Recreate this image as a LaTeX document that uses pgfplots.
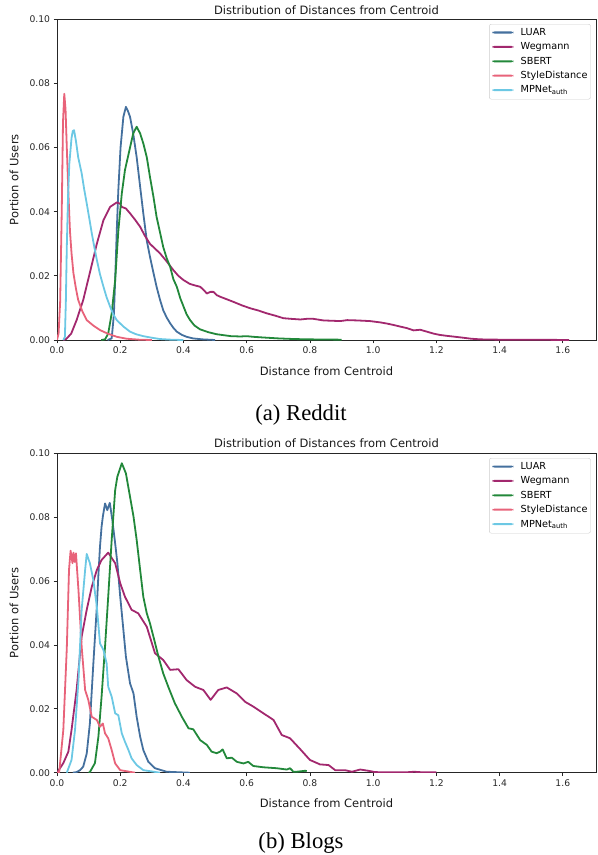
\documentclass[border=0pt]{standalone}
\usepackage{fontspec}
\setmainfont{DejaVu Sans}
\newfontfamily\capfont{Liberation Serif}
\usepackage{pgfplots}
\pgfplotsset{compat=1.18}
\definecolor{cLUAR}{HTML}{44709E}
\definecolor{cWeg}{HTML}{A2286E}
\definecolor{cSB}{HTML}{22883A}
\definecolor{cSD}{HTML}{E8637A}
\definecolor{cMP}{HTML}{6CC8E4}
\newcommand{\tfont}{\fontsize{11.5bp}{13bp}\selectfont}
\pgfplotsset{
 myax/.style={
  scale only axis, width=539bp,
  xmin=0, xmax=1.705, ymin=0, ymax=0.1,
  axis line style={black!85, line width=0.8bp},
  xtick={0,0.2,0.4,0.6,0.8,1.0,1.2,1.4,1.6},
  ytick={0,0.02,0.04,0.06,0.08,0.1},
  tick align=outside, tick pos=left, major tick length=3.4bp,
  every tick/.style={black!85, line width=0.8bp},
  xticklabel style={/pgf/number format/.cd, fixed, fixed zerofill, precision=1},
  yticklabel style={/pgf/number format/.cd, fixed, fixed zerofill, precision=2},
  /pgf/number format/assume math mode=true,
  tick label style={font=\fontsize{9.2bp}{11bp}\selectfont, text=black!85},
  legend style={at={(1,1)}, anchor=north east, xshift=-5.3bp, yshift=-4.7bp,
    draw=black!20, rounded corners=2bp, fill=white,
    font=\fontsize{9.7bp}{11bp}\selectfont, inner xsep=3bp, inner ysep=1.5bp,
    row sep=0bp,
    nodes={inner xsep=0bp, inner ysep=2.3bp, text height=7.4bp, text depth=2.4bp},
    /tikz/every odd column/.append style={column sep=7.4bp}},
  legend cell align=left,
  legend image code/.code={\fill[#1, draw=none] (0bp,-0.6bp) rectangle (21bp,1.4bp);},
  every axis plot/.append style={line width=1.8bp, line join=round, mark=none},
 }
}
\begin{document}
\begin{tikzpicture}
\path[use as bounding box] (0,0) rectangle (598bp,-855bp);
% ---------- (a) Reddit ----------
\begin{axis}[myax, height=320.7bp, at={(57bp,-340bp)}, anchor=south west]
\addplot[cLUAR] table {
0.16 0
0.173 0.0005
0.18 0.008
0.184 0.0187
0.189 0.034
0.194 0.0467
0.201 0.060
0.21 0.0696
0.218 0.0727
0.224 0.0715
0.231 0.0696
0.241 0.0644
0.252 0.057
0.263 0.0478
0.273 0.0395
0.284 0.031
0.294 0.026
0.305 0.021
0.315 0.0166
0.326 0.0125
0.336 0.0093
0.347 0.007
0.358 0.0052
0.368 0.0038
0.379 0.0026
0.395 0.0016
0.41 0.001
0.43 0.0005
0.46 0.0002
0.5 0.0
};
\addlegendentry{LUAR}
\addplot[cWeg] table {
0.02 0
0.029 0.0003
0.045 0.002
0.062 0.0062
0.083 0.0125
0.104 0.021
0.126 0.030
0.147 0.0374
0.168 0.0415
0.189 0.0429
0.2 0.0425
0.205 0.0415
0.218 0.041
0.231 0.0395
0.247 0.0375
0.263 0.0353
0.278 0.0325
0.294 0.030
0.31 0.0285
0.326 0.027
0.347 0.0245
0.368 0.0218
0.384 0.020
0.4 0.0187
0.42 0.0175
0.437 0.017
0.453 0.0166
0.465 0.0155
0.474 0.0145
0.485 0.0150
0.495 0.015
0.505 0.014
0.516 0.0135
0.537 0.0127
0.558 0.0119
0.585 0.0108
0.611 0.0099
0.637 0.0092
0.664 0.0083
0.69 0.0076
0.716 0.0068
0.74 0.0066
0.77 0.0064
0.79 0.0066
0.811 0.0066
0.83 0.0063
0.843 0.0061
0.87 0.006
0.896 0.0059
0.918 0.0062
0.95 0.0061
0.99 0.0059
1.022 0.0055
1.045 0.0051
1.064 0.0047
1.085 0.0042
1.107 0.0037
1.128 0.003
1.149 0.0032
1.17 0.0026
1.191 0.002
1.21 0.0016
1.233 0.0013
1.26 0.001
1.286 0.0007
1.31 0.0004
1.339 0.0002
1.4 0.0001
1.5 0.0001
1.62 0.0
};
\addlegendentry{Wegmann}
\addplot[cSB] table {
0.14 0
0.152 0.0002
0.162 0.002
0.173 0.0083
0.184 0.0187
0.194 0.034
0.205 0.0457
0.215 0.053
0.231 0.060
0.241 0.0644
0.252 0.0665
0.263 0.0644
0.273 0.0613
0.284 0.057
0.294 0.0509
0.305 0.0447
0.315 0.0384
0.326 0.0335
0.336 0.029
0.347 0.0255
0.358 0.0228
0.368 0.019
0.379 0.0166
0.39 0.013
0.40 0.0105
0.41 0.008
0.421 0.0062
0.435 0.0045
0.453 0.0033
0.48 0.0024
0.505 0.0018
0.55 0.0012
0.58 0.0011
0.60 0.0012
0.62 0.0010
0.65 0.0008
0.70 0.0005
0.75 0.0003
0.8 0.0002
0.9 0.0001
};
\addlegendentry{SBERT}
\addplot[cSD] table {
0.0 0
0.005 0.002
0.01 0.012
0.015 0.04
0.019 0.068
0.023 0.0768
0.027 0.072
0.031 0.060
0.036 0.046
0.041 0.034
0.046 0.027
0.052 0.0208
0.06 0.016
0.067 0.0125
0.08 0.009
0.094 0.0062
0.115 0.0045
0.136 0.0031
0.16 0.002
0.189 0.001
0.22 0.0004
0.26 0.0001
0.3 0
};
\addlegendentry{StyleDistance}
\addplot[cMP] table {
0.02 0
0.025 0.001
0.028 0.012
0.031 0.029
0.035 0.045
0.039 0.055
0.046 0.063
0.050 0.0652
0.054 0.0654
0.06 0.062
0.067 0.057
0.078 0.052
0.086 0.047
0.094 0.0426
0.102 0.038
0.11 0.0333
0.118 0.029
0.126 0.025
0.136 0.0205
0.147 0.0166
0.157 0.0133
0.168 0.0104
0.178 0.008
0.189 0.0062
0.21 0.0042
0.231 0.0026
0.25 0.0018
0.273 0.0012
0.3 0.0007
0.326 0.0003
0.36 0.0001
0.4 0
};
\addlegendentry{MPNet\textsubscript{auth}}
\end{axis}
% ---------- (b) Blogs ----------
\begin{axis}[myax, height=319.4bp, at={(57bp,-772.7bp)}, anchor=south west]
\addplot[cLUAR] table {
0.05 0
0.062 0.0002
0.073 0.0008
0.083 0.0019
0.094 0.006
0.104 0.0154
0.115 0.0342
0.126 0.052
0.131 0.062
0.136 0.0708
0.141 0.077
0.145 0.0802
0.152 0.0843
0.159 0.0822
0.167 0.0845
0.175 0.0791
0.184 0.0718
0.191 0.0656
0.2 0.0551
0.21 0.0447
0.218 0.0363
0.231 0.028
0.242 0.0248
0.252 0.0175
0.263 0.0113
0.273 0.0071
0.289 0.0034
0.31 0.0014
0.347 0.0003
0.42 0
};
\addlegendentry{LUAR}
\addplot[cWeg] table {
0.0 0
0.02 0.003
0.036 0.0066
0.046 0.0134
0.062 0.0259
0.078 0.0426
0.094 0.051
0.11 0.0582
0.126 0.0635
0.141 0.0666
0.162 0.0689
0.184 0.0656
0.2 0.0593
0.215 0.0551
0.236 0.051
0.257 0.0499
0.284 0.0457
0.31 0.0374
0.336 0.0353
0.358 0.0322
0.384 0.0324
0.41 0.029
0.437 0.0269
0.463 0.0259
0.486 0.0228
0.51 0.0259
0.537 0.0267
0.569 0.0248
0.595 0.0222
0.621 0.0207
0.653 0.0186
0.685 0.0165
0.711 0.0118
0.737 0.0108
0.769 0.0074
0.8 0.004
0.832 0.0026
0.859 0.0024
0.88 0.0008
0.911 0.0008
0.933 0.0003
0.959 0.001
0.985 0.0006
1.006 0.0002
1.04 0.0001
1.1 0.0001
1.13 0.0003
1.16 0.0001
1.2 0.0001
};
\addlegendentry{Wegmann}
\addplot[cSB] table {
0.1 0
0.104 0.0002
0.12 0.003
0.131 0.0113
0.141 0.0238
0.152 0.0395
0.162 0.0551
0.173 0.0729
0.184 0.0885
0.191 0.0927
0.205 0.0969
0.218 0.0937
0.231 0.0864
0.242 0.0802
0.252 0.0729
0.263 0.0635
0.273 0.0551
0.284 0.0499
0.294 0.0468
0.305 0.0426
0.321 0.0363
0.336 0.0311
0.352 0.0269
0.373 0.0217
0.395 0.0175
0.416 0.0139
0.431 0.0136
0.453 0.0102
0.474 0.0087
0.489 0.0066
0.505 0.0061
0.516 0.0066
0.524 0.0073
0.537 0.0045
0.553 0.0047
0.569 0.0034
0.59 0.0029
0.605 0.0034
0.621 0.0021
0.653 0.0017
0.695 0.0014
0.727 0.001
0.737 0.0014
0.748 0.0003
0.758 0.0003
0.785 0.0006
0.79 0.0005
};
\addlegendentry{SBERT}
\addplot[cSD] table {
0.0 0
0.007 0.0002
0.02 0.0134
0.031 0.039
0.038 0.0635
0.043 0.0695
0.049 0.0656
0.052 0.0689
0.056 0.066
0.06 0.0687
0.068 0.057
0.078 0.0395
0.089 0.0259
0.099 0.0228
0.11 0.0175
0.126 0.0165
0.136 0.0144
0.145 0.0154
0.152 0.0123
0.162 0.0108
0.173 0.0071
0.184 0.0029
0.2 0.0008
0.247 0
};
\addlegendentry{StyleDistance}
\addplot[cMP] table {
0.031 0
0.046 0.004
0.057 0.0134
0.068 0.029
0.078 0.051
0.089 0.0635
0.094 0.0685
0.104 0.0656
0.115 0.0603
0.126 0.052
0.136 0.0405
0.147 0.0384
0.157 0.0342
0.162 0.0269
0.173 0.0238
0.184 0.0186
0.194 0.018
0.205 0.0123
0.215 0.0097
0.226 0.0071
0.236 0.0045
0.252 0.0024
0.273 0.0008
0.326 0
};
\addlegendentry{MPNet\textsubscript{auth}}
\end{axis}
% ---------- titles, labels, captions ----------
\node[anchor=base, font=\tfont, text=black!90] at (326.5bp,-14.3bp) {Distribution of Distances from Centroid};
\node[anchor=base, font=\tfont, text=black!90] at (326.5bp,-375bp) {Distance from Centroid};
\node[anchor=base, rotate=90, font=\tfont, text=black!90] at (18.3bp,-179.7bp) {Portion of Users};
\node[anchor=base, font=\capfont\fontsize{22.7bp}{26bp}\selectfont] at (301bp,-420bp) {(a) Reddit};
\node[anchor=base, font=\tfont, text=black!90] at (326.5bp,-447.5bp) {Distribution of Distances from Centroid};
\node[anchor=base, font=\tfont, text=black!90] at (326.5bp,-807.5bp) {Distance from Centroid};
\node[anchor=base, rotate=90, font=\tfont, text=black!90] at (18.3bp,-613bp) {Portion of Users};
\node[anchor=base, font=\capfont\fontsize{22.7bp}{26bp}\selectfont] at (301bp,-848.5bp) {(b) Blogs};
\end{tikzpicture}
\end{document}
